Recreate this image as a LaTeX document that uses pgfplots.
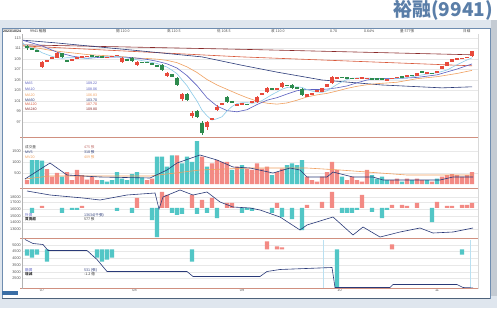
\documentclass[border=0pt]{standalone}
\usepackage{fontspec}
\setmainfont{Liberation Sans}
\newfontfamily\cjk{Noto Sans CJK TC}
\usepackage{pgfplots}
\pgfplotsset{compat=1.18}
\definecolor{bgc}{HTML}{DFE6EE}
\definecolor{sidec}{HTML}{C4CBD3}
\definecolor{framec}{HTML}{6F8DB0}
\definecolor{titleblue}{HTML}{5A7EA8}
\definecolor{upred}{HTML}{E84A3C}
\definecolor{downgreen}{HTML}{2E8B4E}
\definecolor{volteal}{HTML}{52C6C6}
\definecolor{volsal}{HTML}{F38A84}
\definecolor{maA}{HTML}{8CCBE8}
\definecolor{maB}{HTML}{5A5FC0}
\definecolor{maC}{HTML}{F0A060}
\definecolor{maD}{HTML}{2A3A78}
\definecolor{maE}{HTML}{D8583A}
\definecolor{maF}{HTML}{8A2A2A}
\definecolor{sepc}{HTML}{D09080}
\definecolor{gridc}{HTML}{E8E8E8}
\definecolor{tickc}{HTML}{555555}
\definecolor{boxblue}{HTML}{3A6EA5}
\pgfplotsset{panel/.style={scale only axis, width=456pt, xmin=-1, xmax=90.2, anchor=south west,
  axis line style={draw=none}, xtick=\empty, ytick style={draw=none}, xtick style={draw=none},
  ymajorgrids, major grid style={gridc, line width=0.3pt},
  /pgf/number format/assume math mode=true, /pgf/number format/1000 sep={},
  yticklabel style={font=\fontsize{3.8}{4}\selectfont, text=tickc, inner sep=1pt},
  clip=true}}
\newcommand{\tf}{\fontsize{3.6}{4}\selectfont}
\newcommand{\ctf}{\cjk\fontsize{3.6}{4}\selectfont}
\begin{document}
\begin{tikzpicture}
\path[use as bounding box] (0pt,0pt) rectangle (497pt,308pt);
\fill[white] (0pt,0pt) rectangle (497pt,308pt);
\fill[bgc] (0pt,0pt) rectangle (497pt,288pt);
\fill[white] (2pt,10pt) rectangle (490pt,280pt);
\fill[sidec] (490.5pt,12pt) rectangle (497pt,288pt);
\draw[framec, line width=0.8pt] (2pt,10pt) rectangle (490pt,280pt);
\draw[framec!70!black, line width=1pt] (2pt,10pt) -- (490pt,10pt);
\node[anchor=east, text=titleblue, font=\cjk\bfseries\fontsize{19}{19}\selectfont, inner sep=0pt] at (493pt,298pt) {裕融(9941)};

% ---------------- price panel
\begin{axis}[panel, at={(22pt,171pt)}, height=101pt, ymin=94.14, ymax=113.38, ytick={97,99,...,113}]
\addplot[maF, line width=0.6pt] coordinates {(-1,111.7)(45,110.8)(89,109.8)};
\addplot[maE, line width=0.6pt] coordinates {(-1,111.5)(43,109.4)(89,107.7)};
\addplot[maD, line width=0.6pt] coordinates {(-1,112.6)(6,112.05)(21,110.7)(35,109.4)(43,107.8)(50,106.5)(59,105.0)(71,104.05)(83,103.5)(89,103.7)};
\addplot[maC, line width=0.6pt] coordinates {(-1,111.6)(5,110.6)(12,109.85)(19,109.45)(22,109.15)(24,109.1)(26,108.97)(28,108.74)(30,108.3)(32,107.5)(34,106.43)(36,105.09)(38,104.05)(40,103.22)(42,102.39)(44,101.63)(46,100.97)(48,100.58)(50,100.4)(52,100.63)(54,101.15)(56,101.77)(58,102.17)(60,102.45)(62,102.9)(64,103.4)(66,103.8)(68,104.1)(70,104.3)(74,104.57)(78,105.25)(82,105.63)(86,106.24)(89,106.83)};
\addplot[maB, line width=0.6pt] coordinates {(-1,112.6)(3,111.5)(6,110.3)(9,109.55)(12,109.12)(15,109.35)(18,109.39)(20,109.33)(22,109.17)(24,108.92)(26,108.57)(28,108.08)(30,107.28)(32,105.84)(34,103.93)(36,101.61)(38,100.02)(40,99.17)(42,98.94)(44,99.34)(46,100.32)(48,101.15)(50,101.64)(52,102.32)(54,102.96)(56,103.21)(58,103.18)(60,103.26)(62,103.51)(64,103.87)(66,104.46)(68,105.0)(70,105.29)(74,105.27)(78,105.49)(82,105.98)(86,107.08)(89,108.06)};
\addplot[maA, line width=0.6pt] coordinates {(-1,112.2)(0,111.3)(1,111.1)(2,110.8)(3,110.2)(4,109.84)(5,109.5)(6,109.26)(7,109.12)(8,109.24)(10,109.24)(12,109.12)(14,109.44)(16,109.46)(18,109.48)(20,109.2)(22,108.86)(24,108.54)(26,108.14)(28,107.46)(29,106.86)(30,106.2)(31,105.04)(32,103.92)(33,102.42)(34,101)(35,99.26)(36,98.18)(37,97.36)(38,97.62)(39,98)(40,99.08)(41,99.96)(42,100.52)(43,100.66)(44,100.68)(45,100.56)(46,100.68)(47,101.08)(48,101.64)(49,102.22)(50,102.72)(51,103.24)(52,103.56)(53,103.66)(54,103.7)(55,103.58)(56,103.18)(57,102.88)(58,102.7)(59,102.64)(60,102.94)(61,103.54)(62,104.14)(63,104.66)(64,105.1)(65,105.32)(66,105.38)(68,105.36)(70,105.26)(72,105.18)(74,105.24)(76,105.44)(78,105.78)(80,106.14)(82,106.36)(84,106.9)(86,107.9)(88,108.82)(89,109.22)};
% wicks
\addplot[draw=none, mark=none, error bars/.cd, y dir=both, y explicit, error mark=none, error bar style={draw=upred, line width=0.5pt}] coordinates {
(3,108.0)+-(0,0.7) (6,109.7)+-(0,0.6) (19,108.8)+-(0,0.5) (22,108.2)+-(0,0.5) (28,106.0)+-(0,0.5) (31,101.8)+-(0,0.8) (33,98.4)+-(0,0.7) (36,96.3)+-(0,0.9) (38,99.6)+-(0,0.6) (46,101.3)+-(0,0.7) (48,103.1)+-(0,0.6) (51,104.05)+-(0,0.6) (61,105.0)+-(0,0.8) (89,110.0)+-(0,0.6)};
\addplot[draw=none, mark=none, error bars/.cd, y dir=both, y explicit, error mark=none, error bar style={draw=downgreen, line width=0.5pt}] coordinates {
(0,111.2)+-(0,0.4) (7,109.7)+-(0,0.5) (21,108.9)+-(0,0.5) (27,107.4)+-(0,0.7) (30,104.7)+-(0,0.9) (32,101.8)+-(0,0.8) (34,98.5)+-(0,0.8) (35,95.9)+-(0,1.3) (40,101.3)+-(0,0.7) (53,103.8)+-(0,0.5) (55,102.7)+-(0,0.8)};
% bodies
\addplot[draw=none, mark=none, error bars/.cd, y dir=both, y explicit, error mark=none, error bar style={draw=upred, line width=4pt}] coordinates {
(3,108.0)+-(0,0.5) (4,108.6)+-(0,0.25) (5,109.2)+-(0,0.2) (6,109.7)+-(0,0.45) (9,108.9)+-(0,0.12) (10,109.2)+-(0,0.12) (11,109.4)+-(0,0.12) (12,109.5)+-(0,0.12) (16,109.35)+-(0,0.12) (17,109.5)+-(0,0.12) (18,109.7)+-(0,0.12) (19,108.8)+-(0,0.3) (22,108.2)+-(0,0.3) (28,106.0)+-(0,0.3) (31,101.8)+-(0,0.45) (33,98.4)+-(0,0.35) (36,96.5)+-(0,0.5) (37,97.6)+-(0,0.2) (38,99.6)+-(0,0.35) (39,100.4)+-(0,0.15) (42,100.3)+-(0,0.15) (43,100.5)+-(0,0.12) (45,100.8)+-(0,0.15) (46,101.3)+-(0,0.5) (47,102.3)+-(0,0.2) (48,103.1)+-(0,0.4) (50,103.3)+-(0,0.15) (51,104.05)+-(0,0.35) (56,102.0)+-(0,0.3) (57,102.4)+-(0,0.12) (58,102.9)+-(0,0.15) (59,103.1)+-(0,0.3) (60,103.9)+-(0,0.3) (61,105.0)+-(0,0.6) (62,105.4)+-(0,0.12) (66,105.3)+-(0,0.12) (67,105.4)+-(0,0.12) (68,105.3)+-(0,0.12) (72,105.0)+-(0,0.15) (73,105.3)+-(0,0.12) (74,105.5)+-(0,0.12) (76,105.8)+-(0,0.12) (78,106.1)+-(0,0.25) (80,106.4)+-(0,0.12) (82,106.5)+-(0,0.2) (83,107.3)+-(0,0.3) (84,108.05)+-(0,0.3) (85,108.75)+-(0,0.25) (86,109.0)+-(0,0.15) (87,109.1)+-(0,0.12) (88,109.3)+-(0,0.15) (89,110.0)+-(0,0.45)};
\addplot[draw=none, mark=none, error bars/.cd, y dir=both, y explicit, error mark=none, error bar style={draw=downgreen, line width=4pt}] coordinates {
(0,111.2)+-(0,0.2) (1,110.95)+-(0,0.12) (2,110.6)+-(0,0.15) (7,109.7)+-(0,0.35) (8,108.7)+-(0,0.12) (13,109.6)+-(0,0.12) (14,109.5)+-(0,0.12) (15,109.4)+-(0,0.12) (20,108.8)+-(0,0.15) (21,108.9)+-(0,0.3) (23,108.4)+-(0,0.12) (24,108.4)+-(0,0.12) (25,108.0)+-(0,0.15) (26,107.7)+-(0,0.15) (27,107.4)+-(0,0.55) (29,105.8)+-(0,0.3) (30,104.7)+-(0,0.7) (32,101.8)+-(0,0.6) (34,98.5)+-(0,0.55) (35,95.9)+-(0,0.95) (40,101.3)+-(0,0.5) (41,100.8)+-(0,0.15) (44,100.4)+-(0,0.12) (49,103.3)+-(0,0.2) (52,104.0)+-(0,0.12) (53,103.8)+-(0,0.3) (54,103.5)+-(0,0.15) (55,102.7)+-(0,0.6) (63,105.5)+-(0,0.12) (64,105.4)+-(0,0.12) (65,105.3)+-(0,0.12) (69,105.2)+-(0,0.12) (70,105.2)+-(0,0.12) (71,105.2)+-(0,0.2) (75,105.6)+-(0,0.12) (77,105.9)+-(0,0.12) (79,106.5)+-(0,0.2) (81,106.3)+-(0,0.12)};
\end{axis}

% ---------------- volume panel
\begin{axis}[panel, at={(22pt,121pt)}, height=48pt, ymin=-136, ymax=2045, ytick={500,1000,1500}]
\addplot[ybar, bar width=4.4pt, bar shift=0pt, fill=volteal, draw=none] coordinates {
(1,1090)(2,1090)(3,1060)(7,330)(15,180)(16,110)(17,180)(18,540)(19,250)(20,180)(21,450)(22,540)(23,300)(26,1240)(27,1240)(28,790)(29,1300)(31,940)(32,1240)(33,1010)(34,1950)(36,790)(41,640)(43,860)(49,400)(52,860)(53,940)(54,860)(55,1090)(63,330)(69,400)(70,250)(71,330)(72,180)(75,110)(77,180)(80,180)(82,250)};
\addplot[ybar, bar width=4.4pt, bar shift=0pt, fill=volsal, draw=none] coordinates {
(0,180)(4,680)(5,330)(6,510)(8,540)(9,180)(10,640)(11,400)(12,200)(13,330)(14,180)(24,180)(25,250)(30,1300)(35,1240)(37,940)(38,1090)(39,1010)(40,1010)(42,790)(44,700)(45,640)(46,940)(47,700)(48,790)(50,540)(51,700)(56,330)(57,180)(58,110)(59,330)(60,540)(61,1010)(62,640)(64,180)(65,330)(66,180)(67,110)(68,640)(73,180)(74,250)(76,250)(78,250)(79,180)(81,110)(83,330)(84,400)(85,450)(86,400)(87,330)(88,400)(89,540)};
\addplot[maC, line width=0.6pt] coordinates {(-0.4,227)(4.6,364)(24.6,364)(34.6,636)(44.6,727)(56,727)(62.6,636)(76,409)(89.2,409)};
\addplot[maD, line width=0.6pt] coordinates {(-0.4,227)(4.6,955)(8,409)(14.6,318)(24.6,273)(28,636)(30,955)(34.6,1318)(38,1091)(41.2,773)(44.6,727)(49.2,500)(52.6,727)(54.6,636)(56,318)(60,318)(61.2,545)(65.2,318)(69.2,318)(71.2,182)(82.6,182)(85.2,318)(89.2,318)};
\end{axis}

% ---------------- institutional panel
\begin{axis}[panel, at={(22pt,70pt)}, height=49pt, ymin=-30, ymax=19, ytick={11,6,-1,-8,-14,-21}, yticklabels={18000,17000,16000,15000,14000,13000}]
\addplot[ybar, bar width=4.4pt, bar shift=0pt, fill=volteal, draw=none] coordinates {
(1,-5)(7,-5)(9,-2)(10,-2)(18,-3)(21,-5)(25,-12)(26,-29)(29,-5)(30,-7)(31,-6)(34,-6)(36,-5)(38,-10)(43,-5)(44,-2)(45,-3)(49,-5)(51,-9)(53,-11)(55,-22)(63,-5)(64,-5)(65,-5)(66,-2)(69,-4)(71,-10)(72,-2)(81,-14)};
\addplot[ybar, bar width=4.4pt, bar shift=0pt, fill=volsal, draw=none] coordinates {
(3,2)(11,2)(22,10)(27,16)(28,13)(33,13)(35,8)(37,10)(40,5)(41,5)(50,5)(56,3)(59,6)(61,16)(67,13)(73,3)(75,3)(76,2)(78,5)(82,6)(84,2)(85,2)(87,3)(88,3)(89,5)};
\addplot[maD, line width=0.6pt] coordinates {(0,17)(4.6,13)(11.2,10)(14.6,8)(20,13)(25.6,15)(26.4,-1)(27.2,11)(30.6,18)(33.2,13)(36,16)(38.6,6)(41.2,1)(44.6,0)(46.6,-2)(50.6,-9)(54.6,-22)(56,-17)(61.2,-9)(65.2,-27)(67.2,-19)(70.6,-29)(74.6,-24)(78.6,-20)(81.2,-25)(85.2,-24)(89.2,-20)};
\end{axis}

% ---------------- margin panel
\begin{axis}[panel, at={(22pt,20pt)}, height=48pt, ymin=-38.5, ymax=9.5, ytick={4,-2,-9,-16,-23,-29}, yticklabels={5000,4500,4000,3500,3000,2500},
  xtick={3,21.5,43,62.5,82}, xticklabels={07,08,09,10,11}, xticklabel style={font=\fontsize{3.8}{4}\selectfont, text=tickc, inner sep=1pt}]
\addplot[maA!60, line width=0.4pt] coordinates {(59.2,-38.5)(59.2,9.5)};
\addplot[maA!60, line width=0.4pt] coordinates {(88.6,-38.5)(88.6,9.5)};
\addplot[ybar, bar width=4.4pt, bar shift=0pt, fill=volteal, draw=none] coordinates {
(0,-6)(1,-8)(2,-5)(4,-12)(14,-8)(15,-12)(16,-10)(17,-8)(33,-12)(62,-38)(87,-5)};
\addplot[ybar, bar width=4.4pt, bar shift=0pt, fill=volsal, draw=none] coordinates {
(48,8)(50,3)(51,2)(73,5)};
\addplot[maD, line width=0.6pt] coordinates {(-0.4,10)(1.2,6)(3.2,5)(4.2,-1)(12,-1)(14,-10)(16,-22)(32,-22)(33.2,-27)(46.6,-27)(48,-22)(50.6,-20)(61,-18)(61.6,-38)(72.6,-38)(73.2,-35)(86,-35)(87.2,-38)(89.2,-38.4)};
\end{axis}

% separators and axis lines
\draw[sepc, line width=0.6pt] (20pt,170.5pt) -- (479pt,170.5pt);
\draw[sepc, line width=0.6pt] (20pt,120pt) -- (479pt,120pt);
\draw[sepc, line width=0.6pt] (20pt,69.5pt) -- (479pt,69.5pt);
\draw[sepc, line width=0.6pt] (20pt,19.5pt) -- (479pt,19.5pt);
\draw[gray!60, line width=0.4pt] (22pt,19.5pt) -- (22pt,274pt);
\draw[gray!30, line width=0.3pt] (478.5pt,19.5pt) -- (478.5pt,274pt);
\fill[boxblue] (2pt,13pt) rectangle (18pt,17.5pt);

% header row
\node[anchor=west, font=\tf, text=black!80, inner sep=0pt] at (3pt,277pt) {\textbf{2023/10/24}};
\node[anchor=west, font=\ctf, text=black!80, inner sep=0pt] at (30pt,277pt) {9941 裕融};
\node[anchor=west, font=\ctf, text=black!70, inner sep=0pt] at (116pt,277pt) {開 110.0};
\node[anchor=west, font=\ctf, text=black!70, inner sep=0pt] at (167pt,277pt) {高 110.5};
\node[anchor=west, font=\ctf, text=black!70, inner sep=0pt] at (217pt,277pt) {低 108.5};
\node[anchor=west, font=\ctf, text=black!70, inner sep=0pt] at (271pt,277pt) {收 110.0};
\node[anchor=west, font=\tf, text=black!70, inner sep=0pt] at (330pt,277pt) {0.70};
\node[anchor=west, font=\tf, text=black!70, inner sep=0pt] at (364pt,277pt) {0.64\%};
\node[anchor=west, font=\ctf, text=black!70, inner sep=0pt] at (400pt,277pt) {量 577張};
\node[anchor=west, font=\ctf, text=black!70, inner sep=0pt] at (463pt,277pt) {日線};

% price legend
\node[anchor=west, font=\tf, text=maB, inner sep=0pt] at (25pt,224.7pt) {MA5};
\node[anchor=west, font=\tf, text=maB, inner sep=0pt] at (25pt,218.7pt) {MA10};
\node[anchor=west, font=\tf, text=maC, inner sep=0pt] at (25pt,212.7pt) {MA20};
\node[anchor=west, font=\tf, text=maD, inner sep=0pt] at (25pt,208pt) {MA60};
\node[anchor=west, font=\tf, text=maE, inner sep=0pt] at (25pt,203.7pt) {MA120};
\node[anchor=west, font=\tf, text=maF, inner sep=0pt] at (25pt,198.7pt) {MA240};
\node[anchor=west, font=\tf, text=maB, inner sep=0pt] at (86pt,224.7pt) {109.22};
\node[anchor=west, font=\tf, text=maB, inner sep=0pt] at (86pt,218.7pt) {108.06};
\node[anchor=west, font=\tf, text=maC, inner sep=0pt] at (86pt,212.7pt) {106.83};
\node[anchor=west, font=\tf, text=maD, inner sep=0pt] at (86pt,208pt) {103.70};
\node[anchor=west, font=\tf, text=maE, inner sep=0pt] at (86pt,203.7pt) {107.70};
\node[anchor=west, font=\tf, text=maF, inner sep=0pt] at (86pt,198.7pt) {109.80};

% volume legend
\node[anchor=west, font=\ctf, text=black!70, inner sep=0pt] at (25pt,161pt) {成交量};
\node[anchor=west, font=\tf, text=maD, inner sep=0pt] at (25pt,156pt) {MV5};
\node[anchor=west, font=\tf, text=maC, inner sep=0pt] at (25pt,151pt) {MV20};
\node[anchor=west, font=\ctf, text=volsal!80!black, inner sep=0pt] at (84pt,161pt) {475 張};
\node[anchor=west, font=\ctf, text=maD, inner sep=0pt] at (84pt,156pt) {318 張};
\node[anchor=west, font=\ctf, text=maC, inner sep=0pt] at (84pt,151pt) {409 張};

% institutional legend
\node[anchor=west, font=\ctf, text=maB, inner sep=0pt] at (25pt,93pt) {外資};
\node[anchor=west, font=\ctf\bfseries, text=black!80, inner sep=0pt] at (25pt,88.5pt) {買賣超};
\node[anchor=west, font=\ctf, text=maD, inner sep=0pt] at (84pt,93pt) {13634(千張)};
\node[anchor=west, font=\ctf, text=black!80, inner sep=0pt] at (84pt,88.5pt) {577 張};

% margin legend
\node[anchor=west, font=\ctf, text=maB, inner sep=0pt] at (25pt,38pt) {融資};
\node[anchor=west, font=\ctf\bfseries, text=black!80, inner sep=0pt] at (25pt,33.5pt) {增減};
\node[anchor=west, font=\ctf, text=maD, inner sep=0pt] at (84pt,38pt) {531 (張)};
\node[anchor=west, font=\ctf, text=black!80, inner sep=0pt] at (84pt,33.5pt) {-1.2 億};
\end{tikzpicture}
\end{document}
